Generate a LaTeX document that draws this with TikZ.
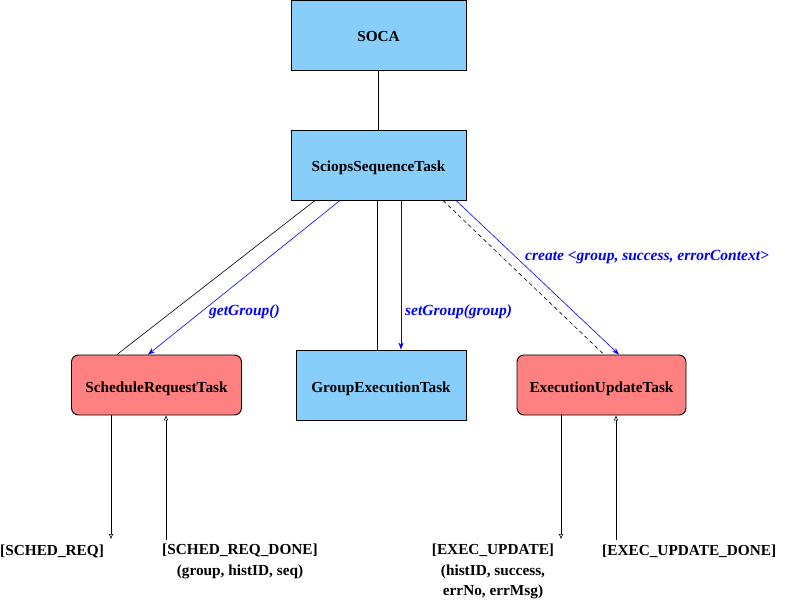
\documentclass[tikz,border=0pt]{standalone}
\usepackage{fontspec}
\setmainfont{Liberation Serif}
\usetikzlibrary{arrows.meta}
\definecolor{boxblue}{HTML}{87CEFA}
\definecolor{boxred}{HTML}{FF8080}
\begin{document}
\begin{tikzpicture}[x=1pt,y=-1pt,
  bluebox/.style={draw=black,fill=boxblue,line width=0.9pt,inner sep=0pt,text height=14pt,text depth=0pt,font=\fontsize{15.3}{17}\selectfont\bfseries},
  redbox/.style={draw=black,fill=boxred,line width=0.9pt,rounded corners=7pt,inner sep=0pt,text height=14pt,text depth=0pt,font=\fontsize{15.3}{17}\selectfont\bfseries},
  conn/.style={draw=black,line width=0.6pt},
  msg/.style={draw=blue,line width=0.6pt,-{Stealth[length=7pt,width=5pt]}},
  msglabel/.style={text=blue,font=\fontsize{15.5}{17}\selectfont\bfseries\itshape,inner sep=0pt,anchor=west},
  sig/.style={draw=black,line width=0.6pt,-{Triangle[open,length=5pt,width=4pt]}},
  siglabel/.style={font=\fontsize{15.3}{20.5}\selectfont\bfseries,inner sep=0pt,align=center}]
\useasboundingbox (0,0) rectangle (795,601);
\node[bluebox,minimum width=175pt,minimum height=70pt] (soca) at (378.5,35) {SOCA};
\node[bluebox,minimum width=175pt,minimum height=70pt] (sciops) at (378.5,165) {SciopsSequenceTask};
\node[redbox,minimum width=170pt,minimum height=60pt] (sched) at (156.5,385) {ScheduleRequestTask};
\node[bluebox,minimum width=170pt,minimum height=70pt] (group) at (381,385) {GroupExecutionTask};
\node[redbox,minimum width=169pt,minimum height=60pt] (exec) at (601.5,385) {ExecutionUpdateTask};

\draw[conn] (soca) -- (sciops);
\draw[conn] ([xshift=-63.5pt]sciops.south) -- ([xshift=-39.5pt]sched.north);
\draw[msg] ([xshift=-38.5pt]sciops.south) -- ([xshift=-8.5pt]sched.north);
\draw[conn] ([xshift=-1.5pt]sciops.south) -- ([xshift=-4pt]group.north);
\draw[msg] ([xshift=22.5pt]sciops.south) -- ([xshift=20pt]group.north);
\draw[conn,dashed,dash pattern=on 4pt off 3pt] ([xshift=64.5pt]sciops.south) -- ([xshift=2.5pt]exec.north);
\draw[msg] ([xshift=77.5pt]sciops.south) -- ([xshift=17.5pt]exec.north);
\node[msglabel] (lg) at (209,312) {getGroup()};
\node[msglabel] (ls) at (405,312) {setGroup(group)};
\node[msglabel] (lc) at (525,257) {create <group, success, errorContext>};

\coordinate (sr) at (111,539);
\coordinate (srd) at (166,540);
\coordinate (eu) at (561,539);
\coordinate (eud) at (616,540);
\draw[sig] ([xshift=-45.5pt]sched.south) -- (sr);
\draw[sig] (srd) -- ([xshift=9.5pt]sched.south);
\draw[sig] ([xshift=-40.5pt]exec.south) -- (eu);
\draw[sig] (eud) -- ([xshift=14.5pt]exec.south);

\node[siglabel,anchor=west] (lsr) at (0,551) {[SCHED\_REQ]};
\node[siglabel,anchor=north] (lsrd) at (240,544) {[SCHED\_REQ\_DONE]\\(group, histID, seq)};
\node[siglabel,anchor=north] (leu) at (493,544) {[EXEC\_UPDATE]\\(histID, success,\\errNo, errMsg)};
\node[siglabel,anchor=west] (leud) at (602,551) {[EXEC\_UPDATE\_DONE]};
\end{tikzpicture}
\end{document}
